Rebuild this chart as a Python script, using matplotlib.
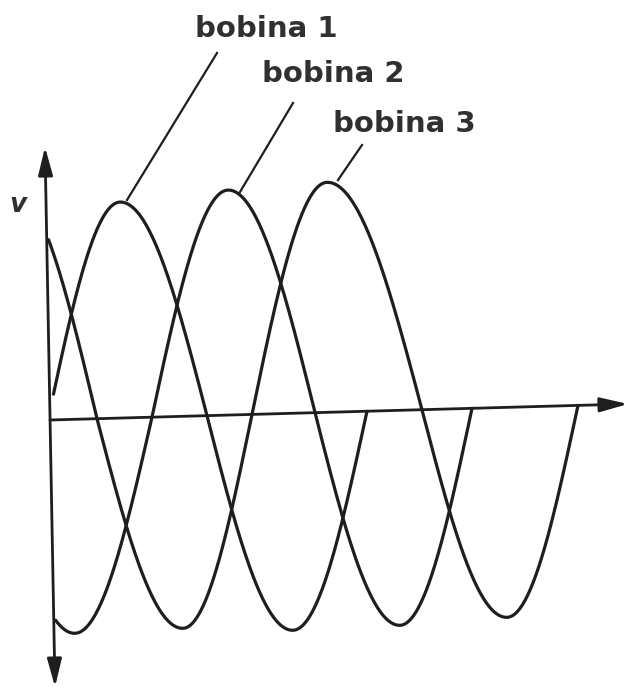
import numpy as np
import matplotlib
matplotlib.use("Agg")
import matplotlib.pyplot as plt

# ---- data (in picture pixels) ----
labels = ["bobina 1", "bobina 2", "bobina 3"]
label_left = [195, 262, 333]
label_base = [37, 82, 132]

# key points of each wave: x position and height above the time axis
bobina1_x = [48, 120, 207, 293, 367]
bobina1_v = [0, 216, 0, -217, 0]
bobina1_start = 53

bobina2_x = [-10, 75, 152, 228, 315, 400, 472]
bobina2_v = [0, -214, 0, 225, 0, -215, 0]
bobina2_start = 55

bobina3_x = [10, 97, 183, 252, 327, 422, 507, 578]
bobina3_v = [235, 0, -212, 0, 230, 0, -210, 0]
bobina3_start = 48

leader_top = [(217, 53), (293, 103), (362, 145)]
leader_bottom = [(127, 200), (240, 192), (338, 180)]

# axes (hand-drawn, slightly tilted)
t_axis_start = (50, 420)
t_axis_end = (628, 404)
v_axis_bottom = (55, 687)
v_axis_top = (45, 147)

INK = "#1e1e1e"


def axis_y(x):
    (x0, y0), (x1, y1) = t_axis_start, t_axis_end
    return y0 + (np.asarray(x) - x0) * (y1 - y0) / (x1 - x0)


def wave(xk, vk, start):
    xs_all, vs_all = [], []
    for i in range(len(xk) - 1):
        xa, xb = xk[i], xk[i + 1]
        xs = np.linspace(xa, xb, 80)
        t = (xs - xa) / (xb - xa)
        if vk[i] == 0:
            v = vk[i + 1] * np.sin(np.pi / 2 * t)
        else:
            v = vk[i] * np.cos(np.pi / 2 * t)
        xs_all.append(xs)
        vs_all.append(v)
    xs = np.concatenate(xs_all)
    vs = np.concatenate(vs_all)
    m = xs >= start
    return xs[m], axis_y(xs[m]) - vs[m]


fig = plt.figure(figsize=(6.28, 6.97), dpi=100)
ax = fig.add_axes([0, 0, 1, 1])
ax.set_xlim(0, 628)
ax.set_ylim(697, 0)
ax.axis("off")

# axes with arrows
ax.annotate("", xy=t_axis_end, xytext=t_axis_start,
            arrowprops=dict(arrowstyle="-|>,head_length=0.85,head_width=0.22",
                            color=INK, lw=2.0, mutation_scale=20,
                            shrinkA=0, shrinkB=0))
ax.annotate("", xy=v_axis_top, xytext=v_axis_bottom,
            arrowprops=dict(arrowstyle="<|-|>,head_length=0.85,head_width=0.22",
                            color=INK, lw=2.0, mutation_scale=20,
                            shrinkA=0, shrinkB=0))

# waves
for xk, vk, st in [(bobina1_x, bobina1_v, bobina1_start),
                   (bobina2_x, bobina2_v, bobina2_start),
                   (bobina3_x, bobina3_v, bobina3_start)]:
    xs, ys = wave(xk, vk, st)
    ax.plot(xs, ys, color=INK, lw=2.3, solid_capstyle="round")

# leaders and labels
for (xt, yt), (xb, yb) in zip(leader_top, leader_bottom):
    ax.plot([xt, xb], [yt, yb], color=INK, lw=1.6)

for lab, xl, yl in zip(labels, label_left, label_base):
    ax.text(xl, yl, lab, ha="left", va="baseline", fontsize=21,
            family="DejaVu Sans", weight="bold", color="#303030")

ax.text(18, 212, "v", ha="center", va="baseline", fontsize=19,
        family="DejaVu Sans", style="italic", weight="bold", color="#303030")

fig.savefig("out.png", dpi=100, facecolor="white")
